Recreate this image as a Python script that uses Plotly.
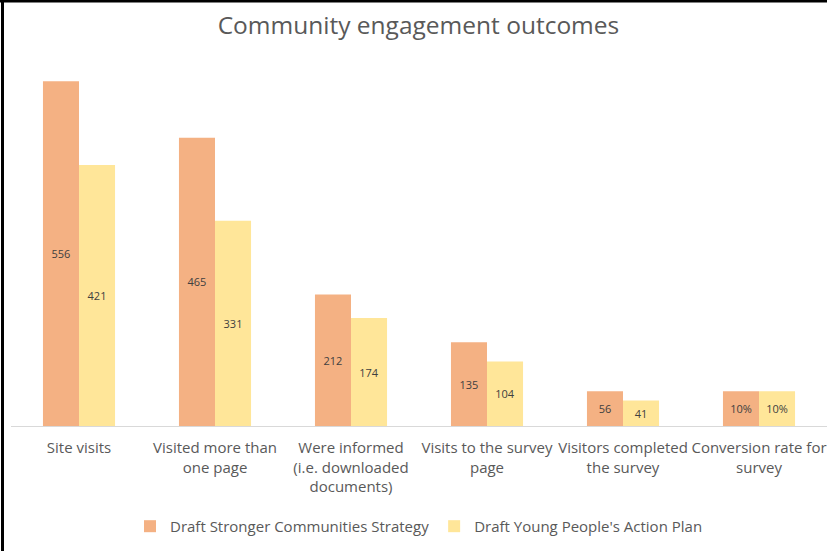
import plotly.graph_objects as go

# Categories and series values
categories = [
    "Site visits",
    "Visited more than<br>one page",
    "Were informed<br>(i.e. downloaded<br>documents)",
    "Visits to the survey<br>page",
    "Visitors completed<br>the survey",
    "Conversion rate for<br>survey",
]
count_categories = categories[:5]
rate_categories = categories[5:]

stronger_counts = [556, 465, 212, 135, 56]
young_counts = [421, 331, 174, 104, 41]
stronger_rate = [0.10]
young_rate = [0.10]

series_names = ["Draft Stronger Communities Strategy", "Draft Young People's Action Plan"]
colors = ["#F4B183", "#FFE699"]

FONT = "'Open Sans', Lato, sans-serif"
TEXT_GRAY = "#595959"
BAR_W = 0.265

fig = go.Figure()

for name, vals, col, off in [
    (series_names[0], stronger_counts, colors[0], -BAR_W),
    (series_names[1], young_counts, colors[1], 0.0),
]:
    fig.add_trace(go.Bar(
        x=count_categories, y=vals, name=name, legendgroup=name,
        marker=dict(color=col, line=dict(width=0)),
        width=BAR_W, offset=off,
        texttemplate="%{y}", textposition="inside",
        insidetextanchor="middle", textangle=0,
        textfont=dict(family=FONT, size=11, color="#404040"),
        hoverinfo="skip",
    ))

# Conversion rate shares the category axis but uses its own value scale
for name, vals, col, off in [
    (series_names[0], stronger_rate, colors[0], -BAR_W),
    (series_names[1], young_rate, colors[1], 0.0),
]:
    fig.add_trace(go.Bar(
        x=rate_categories, y=vals, name=name, legendgroup=name, showlegend=False,
        yaxis="y2",
        marker=dict(color=col, line=dict(width=0)),
        width=BAR_W, offset=off,
        texttemplate="%{y:.0%}", textposition="inside",
        insidetextanchor="middle", textangle=0,
        textfont=dict(family=FONT, size=11, color="#404040"),
        hoverinfo="skip",
    ))

Y_MAX = 600
fig.update_layout(
    width=827, height=551,
    margin=dict(l=11, r=0, t=54, b=125),
    paper_bgcolor="white", plot_bgcolor="white",
    title=dict(text="Community engagement outcomes", x=0.506, xanchor="center",
               y=1 - 25 / 551, yanchor="middle",
               font=dict(family=FONT, size=24.5, color=TEXT_GRAY)),
    xaxis=dict(categoryorder="array", categoryarray=categories,
               showline=True, linecolor="#D9D9D9", linewidth=1,
               ticks="", showgrid=False, ticklabelstandoff=8,
               tickfont=dict(family=FONT, size=15, color=TEXT_GRAY)),
    yaxis=dict(range=[0, Y_MAX], visible=False, showgrid=False),
    yaxis2=dict(range=[0, 0.10 * Y_MAX / 56], overlaying="y", visible=False,
                showgrid=False),
    barmode="overlay",
    showlegend=True,
    legend=dict(orientation="h", x=0.5, xanchor="center", y=-0.27, yanchor="middle",
                font=dict(family=FONT, size=15, color=TEXT_GRAY),
                traceorder="normal"),
    shapes=[
        dict(type="line", xref="paper", yref="paper", x0=-11 / 816 + 2.5 / 816,
             x1=-11 / 816 + 2.5 / 816, y0=-125 / 372, y1=1 + 54 / 372,
             line=dict(color="black", width=3)),
        dict(type="line", xref="paper", yref="paper", x0=-11 / 816, x1=1,
             y0=1 + 53 / 372, y1=1 + 53 / 372,
             line=dict(color="black", width=3)),
    ],
)

fig.write_html("out.html")
